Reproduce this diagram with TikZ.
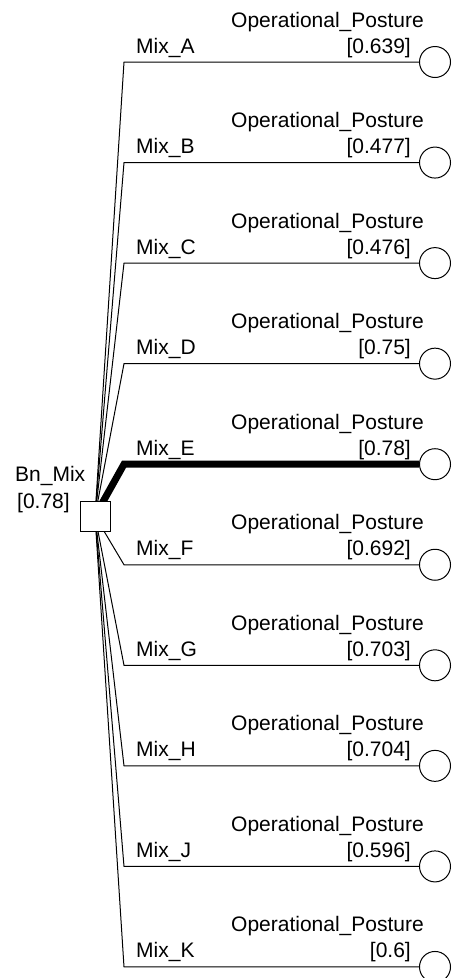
\documentclass[tikz,border=0pt]{standalone}
\usepackage{fontspec}
\setmainfont{Liberation Sans}
\begin{document}
\begin{tikzpicture}[x=1pt,y=-1pt,
  lbl/.style={inner sep=0pt, font=\fontsize{21}{25}\selectfont},
  branch/.style={line width=1pt, line join=miter},
  best/.style={line width=7pt, line join=miter},
  chance/.style={circle, draw, line width=1pt, minimum size=31pt, inner sep=0pt, fill=white},
  decision/.style={rectangle, draw, line width=1pt, minimum size=30pt, inner sep=0pt, fill=white}]
\useasboundingbox (0,0) rectangle (451,978);
\coordinate (o) at (95,516);
\foreach \n/\val/\sty [count=\i from 0] in {A/0.639/branch, B/0.477/branch, C/0.476/branch, D/0.75/branch, E/0.78/best, F/0.692/branch, G/0.703/branch, H/0.704/branch, J/0.596/branch, K/0.6/branch} {
  \pgfmathsetmacro\yy{62+100.55*\i}
  \coordinate (k\n) at (124,\yy);
  \node[chance] (c\n) at (435,\yy) {};
  \draw[\sty] (o) -- (k\n) -- (c\n);
  \node[lbl, anchor=base west] (m\n) at (136,\yy-9) {Mix\_\n};
  \node[lbl, anchor=base east] (v\n) at (411,\yy-9) {[\val]};
  \node[lbl, anchor=base east] (p\n) at (424,\yy-35) {Operational\_Posture};
}
\node[decision] (bn) at (o) {};
\node[lbl, anchor=base west] (bnl) at (15,481) {Bn\_Mix};
\node[lbl, anchor=base west] (bnv) at (17,508) {[0.78]};
\end{tikzpicture}
\end{document}
